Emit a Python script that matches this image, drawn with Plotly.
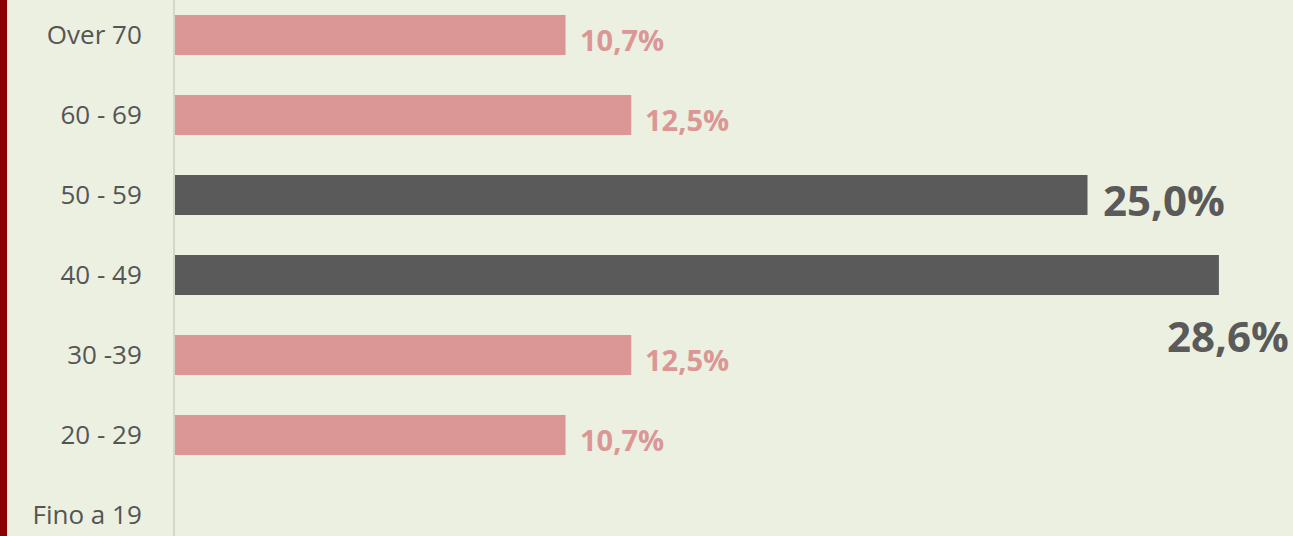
import plotly.graph_objects as go

categories = ["Fino a 19", "20 - 29", "30 -39", "40 - 49", "50 - 59", "60 - 69", "Over 70"]
values = [0, 10.7, 12.5, 28.6, 25.0, 12.5, 10.7]
highlight = [False, False, False, True, True, False, False]

PINK = "#DB9696"
DARK = "#5A5A5A"
BG = "#ECF0E0"

colors = [DARK if h else PINK for h in highlight]

fig = go.Figure()
fig.add_trace(go.Bar(
    y=categories, x=values, orientation="h",
    marker=dict(color=colors, line=dict(width=0)),
    width=0.5, hoverinfo="skip",
))

ann = []
for c, v, h in zip(categories, values, highlight):
    if v <= 0:
        continue
    txt = f"{v:.1f}".replace(".", ",") + "%"
    if h and v == max(values):
        ann.append(dict(x=v, y=c, text=txt, showarrow=False, xanchor="right",
                        xshift=72, yshift=-60,
                        font=dict(family="Open Sans", size=42, color=DARK, weight=700)))
    elif h:
        ann.append(dict(x=v, y=c, text=txt, showarrow=False, xanchor="left",
                        xshift=13, yshift=-4,
                        font=dict(family="Open Sans", size=42, color=DARK, weight=700)))
    else:
        ann.append(dict(x=v, y=c, text=txt, showarrow=False, xanchor="left",
                        xshift=12, yshift=-4,
                        font=dict(family="Open Sans", size=29, color=PINK, weight=700)))

fig.update_layout(
    width=1293, height=536,
    margin=dict(l=175, r=0, t=0, b=0),
    paper_bgcolor=BG, plot_bgcolor=BG,
    showlegend=False,
    annotations=ann,
    xaxis=dict(range=[0, 1118 / 36.5], visible=False, showgrid=False, zeroline=False),
    yaxis=dict(
        categoryorder="array", categoryarray=categories,
        range=[-0.2625, 6.4375],
        showgrid=False, zeroline=False,
        showline=True, linecolor="#D4D6CC", linewidth=2,
        ticks="", ticklabelstandoff=26,
        tickfont=dict(family="Open Sans", size=26, color="#555555"),
    ),
    shapes=[dict(type="rect", xref="paper", yref="paper", x0=-175 / 1118, x1=-168 / 1118,
                 y0=0, y1=1, fillcolor="#8B0000", line=dict(width=0), layer="above")],
)

fig.write_html("out.html", config={"displayModeBar": False},
               post_script="document.body.style.margin='0';document.body.style.overflow='hidden';")
